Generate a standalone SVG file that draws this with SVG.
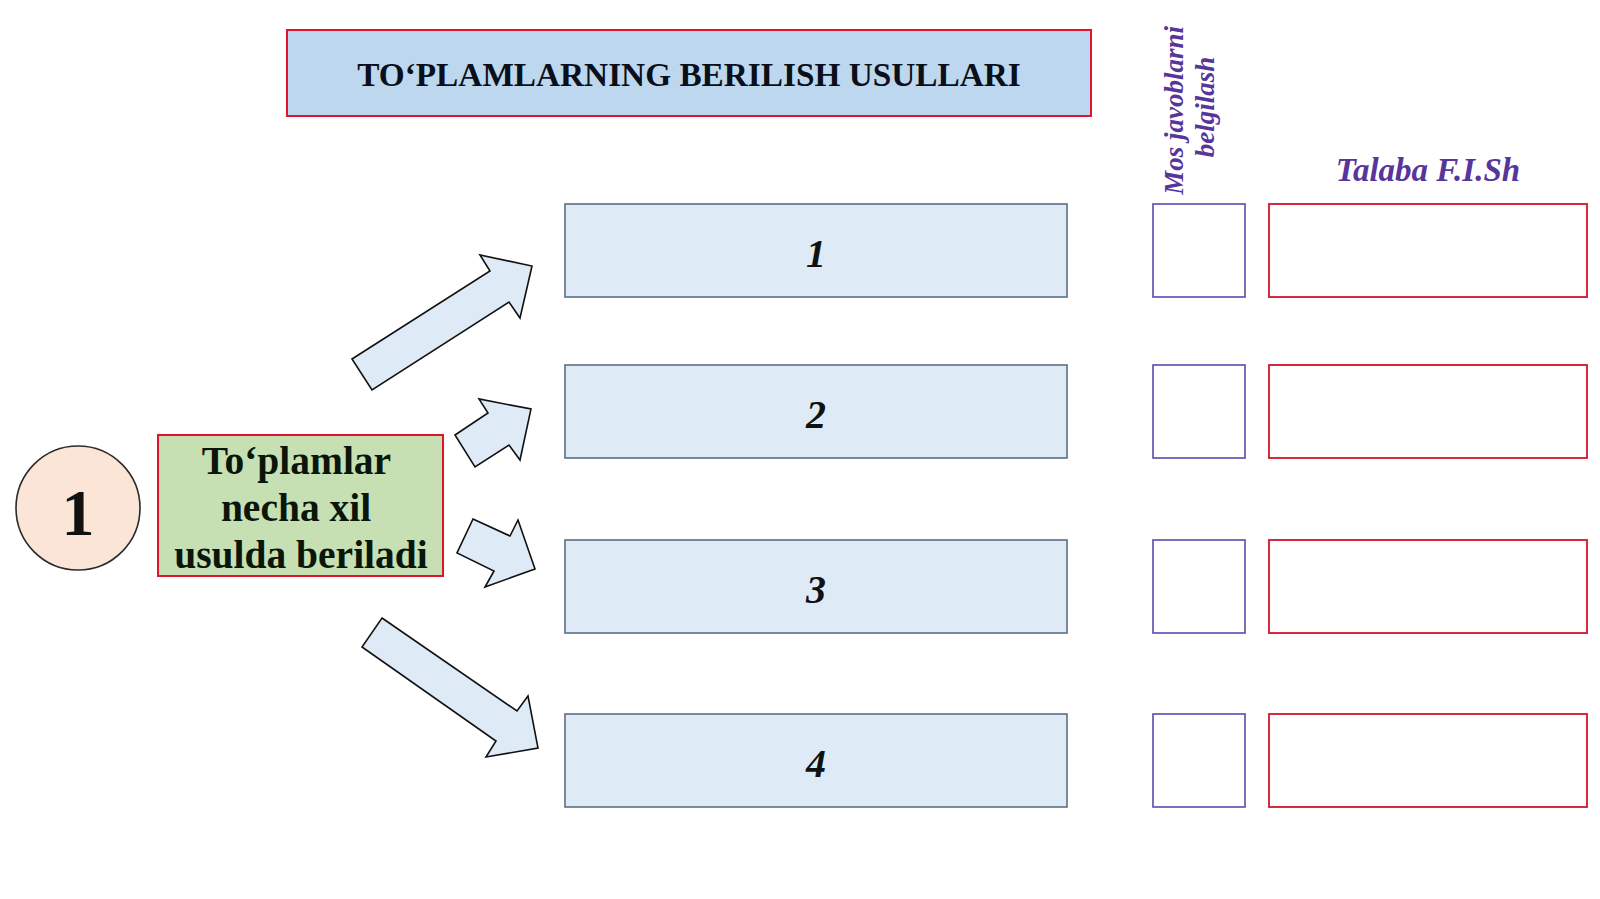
<svg xmlns="http://www.w3.org/2000/svg" width="1600" height="899" viewBox="0 0 1600 899">
<style>
.serif{font-family:"Liberation Serif","Times New Roman",serif;}
.b{font-weight:bold;}
.bi{font-weight:bold;font-style:italic;}
.opt{fill:#DEEBF7;stroke:#5E6E82;stroke-width:1.6;}
.chk{fill:#FFFFFF;stroke:#5A4BB0;stroke-width:1.6;}
.name{fill:#FFFFFF;stroke:#D0142C;stroke-width:1.8;}
.arrow{fill:#DEEBF7;stroke:#111111;stroke-width:1.6;stroke-linejoin:miter;}
.num{font-size:40px;fill:#111111;}
.purple{fill:#58359A;}
</style>
<rect width="1600" height="899" fill="#FFFFFF"/>

<g id="title">
<rect x="287" y="30" width="804" height="86" fill="#BDD7EE" stroke="#E0142F" stroke-width="2"/>
<text class="serif b" x="689" y="86" font-size="33.3" text-anchor="middle" fill="#0A0F1A">TO‘PLAMLARNING BERILISH USULLARI</text>
</g>

<g id="badge">
<circle cx="78" cy="508" r="62" fill="#FBE5D6" stroke="#2A2A2A" stroke-width="1.6"/>
<text class="serif b" x="78" y="535" font-size="66" text-anchor="middle" fill="#111111">1</text>
</g>

<g id="question">
<rect x="158" y="435" width="285" height="141" fill="#C6E0B4" stroke="#E0142F" stroke-width="2"/>
<text class="serif b" font-size="39.5" text-anchor="middle" fill="#0B160B">
<tspan x="301" y="474">To‘plamlar</tspan>
<tspan x="301" y="521">necha xil</tspan>
<tspan x="301" y="568">usulda beriladi</tspan>
</text>
</g>

<g id="connectors">
<polygon class="arrow" points="352,359 490,271 480,255 532,266 520,318 509,302 372,390"/>
<polygon class="arrow" points="455,435 488,413 479,399 531,409 520,460 509,445 475,467"/>
<polygon class="arrow" points="473,519 510,536 518,520 535,569 485,587 494,571 457,553"/>
<polygon class="arrow" points="382,618 517,711 528,696 538,748 486,757 496,741 362,647"/>
</g>

<g id="option1">
<rect class="opt" x="565" y="204" width="502" height="93"/>
<text class="serif bi num" x="816" y="267" text-anchor="middle">1</text>
</g>
<g id="option2">
<rect class="opt" x="565" y="365" width="502" height="93"/>
<text class="serif bi num" x="816" y="428" text-anchor="middle">2</text>
</g>
<g id="option3">
<rect class="opt" x="565" y="540" width="502" height="93"/>
<text class="serif bi num" x="816" y="603" text-anchor="middle">3</text>
</g>
<g id="option4">
<rect class="opt" x="565" y="714" width="502" height="93"/>
<text class="serif bi num" x="816" y="777" text-anchor="middle">4</text>
</g>

<g id="header-check">
<text class="serif bi purple" font-size="27" text-anchor="middle" transform="translate(1183,107) rotate(-90)">
<tspan x="0" y="0">Mos javoblarni</tspan>
<tspan x="0" y="31">belgilash</tspan>
</text>
</g>
<g id="header-name">
<text class="serif bi purple" x="1428" y="181" font-size="33" text-anchor="middle">Talaba F.I.Sh</text>
</g>

<g id="check1"><rect class="chk" x="1153" y="204" width="92" height="93"/></g>
<g id="check2"><rect class="chk" x="1153" y="365" width="92" height="93"/></g>
<g id="check3"><rect class="chk" x="1153" y="540" width="92" height="93"/></g>
<g id="check4"><rect class="chk" x="1153" y="714" width="92" height="93"/></g>

<g id="name1"><rect class="name" x="1269" y="204" width="318" height="93"/></g>
<g id="name2"><rect class="name" x="1269" y="365" width="318" height="93"/></g>
<g id="name3"><rect class="name" x="1269" y="540" width="318" height="93"/></g>
<g id="name4"><rect class="name" x="1269" y="714" width="318" height="93"/></g>
</svg>
